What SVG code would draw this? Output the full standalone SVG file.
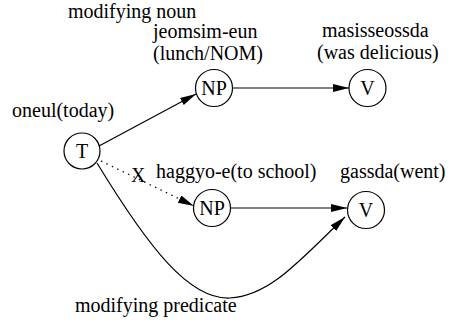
<svg xmlns="http://www.w3.org/2000/svg" width="450" height="325" viewBox="0 0 450 325">
<style>
text{font-family:"Liberation Serif","Times New Roman",serif;font-size:20px;fill:#000}
.lbl{text-anchor:middle}
circle{fill:#fff;stroke:#000;stroke-width:1.2}
.e{fill:none;stroke:#000;stroke-width:1.2}
.d{stroke-dasharray:1.5 4.5}
</style>
<defs>
<marker id="ah" markerUnits="userSpaceOnUse" markerWidth="17" markerHeight="9" refX="16" refY="4" orient="auto">
<path d="M0,0 L16,4 L0,8 z" fill="#000"/>
</marker>
</defs>
<rect width="450" height="325" fill="#fff"/>
<g id="connectors">
<line class="e" x1="99" y1="146" x2="196" y2="94" marker-end="url(#ah)"/>
<line class="e" x1="233" y1="88" x2="349" y2="88" marker-end="url(#ah)"/>
<line class="e d" x1="101" y1="161" x2="194" y2="206" marker-end="url(#ah)"/>
<line class="e" x1="231" y1="208" x2="347" y2="208" marker-end="url(#ah)"/>
<path class="e" d="M97,163 C150,250 190,300 230,298 C270,296 300,260 345,217" marker-end="url(#ah)"/>
</g>
<g id="T">
<circle cx="82" cy="151" r="18"/>
<text class="lbl" x="82" y="158">T</text>
<text x="12" y="117">oneul(today)</text>
</g>
<g id="NP1">
<circle cx="214" cy="88" r="18.5"/>
<text class="lbl" x="214" y="95">NP</text>
<text x="153" y="38">jeomsim-eun</text>
<text x="153" y="60">(lunch/NOM)</text>
</g>
<g id="V1">
<circle cx="367.5" cy="88" r="18.5"/>
<text class="lbl" x="367.5" y="95">V</text>
<text x="322" y="37">masisseossda</text>
<text x="317" y="59">(was delicious)</text>
</g>
<g id="NP2">
<circle cx="212" cy="208" r="18.5"/>
<text class="lbl" x="212" y="215">NP</text>
<text x="156" y="178">haggyo-e(to school)</text>
</g>
<g id="V2">
<circle cx="366" cy="210" r="18.5"/>
<text class="lbl" x="366" y="217">V</text>
<text x="340" y="178">gassda(went)</text>
</g>
<g id="labels">
<text x="68" y="18">modifying noun</text>
<text x="131" y="182">X</text>
<text x="75" y="312">modifying predicate</text>
</g>
</svg>
